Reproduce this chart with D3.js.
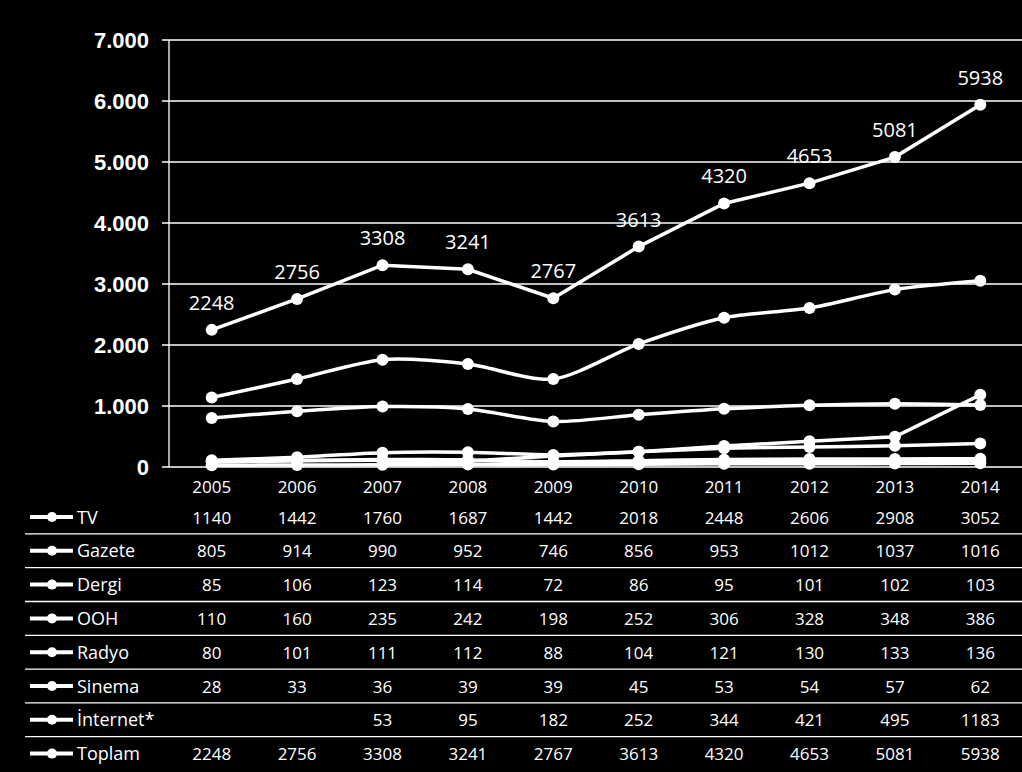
<!DOCTYPE html>
<html><head><meta charset="utf-8">
<script src="https://cdn.jsdelivr.net/npm/d3@7"></script>
<style>
html,body{margin:0;padding:0;background:#000;}
svg{display:block;}
</style></head>
<body>
<svg id="chart" width="1022" height="772"></svg>
<script>
const years = ["2005","2006","2007","2008","2009","2010","2011","2012","2013","2014"];
const seriesNames = ["TV","Gazete","Dergi","OOH","Radyo","Sinema","İnternet*","Toplam"];
const tv      = [1140,1442,1760,1687,1442,2018,2448,2606,2908,3052];
const gazete  = [805,914,990,952,746,856,953,1012,1037,1016];
const dergi   = [85,106,123,114,72,86,95,101,102,103];
const ooh     = [110,160,235,242,198,252,306,328,348,386];
const radyo   = [80,101,111,112,88,104,121,130,133,136];
const sinema  = [28,33,36,39,39,45,53,54,57,62];
const internet= [null,null,53,95,182,252,344,421,495,1183];
const toplam  = [2248,2756,3308,3241,2767,3613,4320,4653,5081,5938];
const yTicks  = [0,1000,2000,3000,4000,5000,6000,7000];
const seriesValues = [tv,gazete,dergi,ooh,radyo,sinema,internet,toplam];
const smoothFlags = [true,true,true,true,true,true,false,false];

const svg = d3.select("#chart");
const plotL = 169, plotR = 1023, plotT = 40, plotB = 467;

const x = d3.scaleBand().domain(years).range([plotL, plotR]);
const xc = d => x(d) + x.bandwidth()/2;
const y = d3.scaleLinear().domain([0,7000]).range([plotB, plotT]);

// grid lines
svg.append("g").selectAll("line").data(yTicks).join("line")
  .attr("x1", 162).attr("x2", 1022)
  .attr("y1", d => y(d)).attr("y2", d => y(d))
  .attr("stroke", "#fff").attr("stroke-width", 1.3);

// y axis line
svg.append("line").attr("x1", plotL).attr("x2", plotL)
  .attr("y1", plotT).attr("y2", plotB).attr("stroke","#fff").attr("stroke-width",1.3);

// y tick labels
const fmt = v => v === 0 ? "0" : d3.format(",")(v).replace(/,/g, ".");
svg.append("g").selectAll("text").data(yTicks).join("text")
  .attr("x", 149).attr("y", d => y(d) + 8)
  .attr("text-anchor","end")
  .attr("font-family","'Liberation Sans', Arial, sans-serif")
  .attr("font-weight","bold").attr("font-size", 22)
  .attr("fill","#fff").text(d => fmt(d));

// lines
seriesValues.forEach((vals, i) => {
  const pts = years.map((yr, j) => ({yr, v: vals[j]})).filter(p => p.v !== null);
  const line = d3.line().x(p => xc(p.yr)).y(p => y(p.v))
    .curve(smoothFlags[i] ? d3.curveCardinal.tension(0.2) : d3.curveLinear);
  const g = svg.append("g");
  g.append("path").datum(pts).attr("d", line)
    .attr("fill","none").attr("stroke","#fff").attr("stroke-width",3.5);
  g.selectAll("circle").data(pts).join("circle")
    .attr("cx", p => xc(p.yr)).attr("cy", p => y(p.v)).attr("r", 6)
    .attr("fill","#fff");
});

// Toplam data labels
svg.append("g").selectAll("text").data(years).join("text")
  .attr("x", d => xc(d)).attr("y", (d,j) => y(toplam[j]) - 20)
  .attr("text-anchor","middle")
  .attr("font-family","'Open Sans', sans-serif").attr("font-size", 20)
  .attr("fill","#fff").text((d,j) => toplam[j]);

// table
const tableFont = "'Open Sans', sans-serif";
svg.append("g").selectAll("text").data(years).join("text")
  .attr("x", d => xc(d)).attr("y", 493)
  .attr("text-anchor","middle").attr("font-family",tableFont).attr("font-size",17)
  .attr("fill","#fff").text(d => d);

const rowH = 33.8, row0 = 517;
seriesNames.forEach((name, i) => {
  const cy = row0 + i*rowH;
  const g = svg.append("g");
  g.append("line").attr("x1",30).attr("x2",73).attr("y1",cy).attr("y2",cy)
    .attr("stroke","#fff").attr("stroke-width",4);
  g.append("circle").attr("cx",52).attr("cy",cy).attr("r",5).attr("fill","#fff");
  g.append("text").attr("x",77).attr("y",cy+6.5)
    .attr("font-family",tableFont).attr("font-size",18).attr("fill","#fff").text(name);
  g.selectAll("text.v").data(years).join("text").attr("class","v")
    .attr("x", d => xc(d)).attr("y", cy+6.5)
    .attr("text-anchor","middle").attr("font-family",tableFont).attr("font-size",17)
    .attr("fill","#fff").text((d,j) => seriesValues[i][j] === null ? "" : seriesValues[i][j]);
  if (i < seriesNames.length - 1) {
    g.append("line").attr("x1",25).attr("x2",1022)
      .attr("y1", cy + rowH/2).attr("y2", cy + rowH/2)
      .attr("stroke","#fff").attr("stroke-width",1.3);
  }
});
</script>
</body></html>
